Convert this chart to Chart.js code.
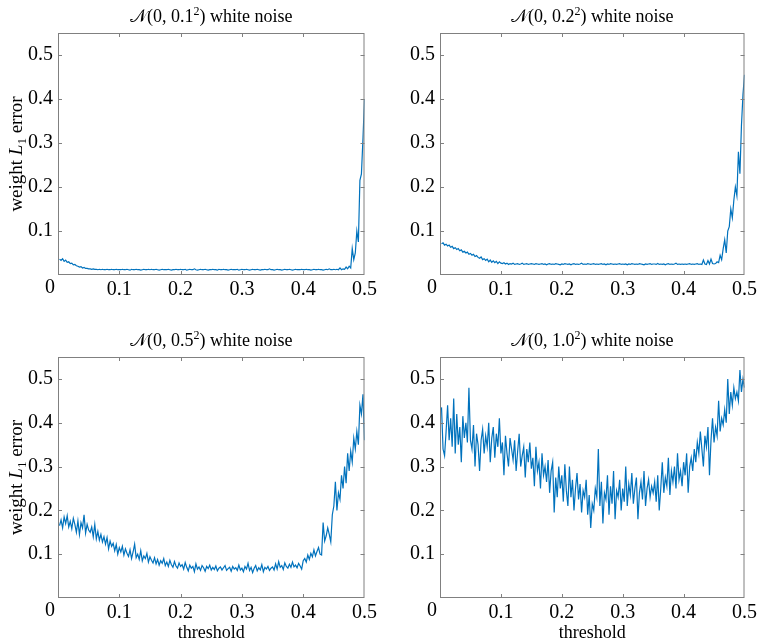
<!DOCTYPE html>
<html>
<head>
<meta charset="utf-8">
<script src="https://cdn.jsdelivr.net/npm/chart.js@4.4.0/dist/chart.umd.min.js"></script>
<style>
  body { margin: 0; background: #fff; width: 760px; height: 644px; position: relative; overflow: hidden; }
  canvas { position: absolute; }
</style>
</head>
<body>
<canvas id="c1" width="380" height="310" style="left:0;top:0"></canvas>
<canvas id="c2" width="380" height="310" style="left:380px;top:0"></canvas>
<canvas id="c3" width="380" height="324" style="left:0;top:320px"></canvas>
<canvas id="c4" width="380" height="324" style="left:380px;top:320px"></canvas>
<script>
// thresholds 0.0025 .. 0.5 (regular grid of the sweep)
const thresholds = [];
for (let i = 1; i <= 200; i++) thresholds.push(+(i * 0.0025).toFixed(4));

const xTicks = [0, 0.1, 0.2, 0.3, 0.4, 0.5];
const yTicks = [0.1, 0.2, 0.3, 0.4, 0.5];
const sigmas = ['0.1', '0.2', '0.5', '1.0'];

// weight L1 error (one value per threshold)
const err01 = [
  0.036,0.033,0.037,0.031,0.034,0.029,0.030,0.026,0.027,0.023,0.024,0.021,0.020,0.018,0.019,0.016,0.017,0.015,0.015,0.014,
  0.014,0.013,0.014,0.013,0.013,0.012,0.013,0.012,0.013,0.012,0.012,0.013,0.012,0.012,0.013,0.012,0.012,0.013,0.012,0.012,
  0.012,0.013,0.012,0.012,0.013,0.012,0.011,0.013,0.012,0.012,0.013,0.012,0.012,0.011,0.012,0.013,0.012,0.012,0.013,0.012,
  0.013,0.012,0.012,0.013,0.012,0.011,0.012,0.013,0.012,0.012,0.012,0.013,0.012,0.011,0.012,0.012,0.013,0.012,0.012,0.013,
  0.012,0.012,0.013,0.011,0.012,0.013,0.012,0.012,0.014,0.012,0.011,0.012,0.013,0.012,0.012,0.013,0.012,0.011,0.012,0.012,
  0.013,0.012,0.012,0.011,0.013,0.012,0.012,0.013,0.012,0.012,0.011,0.012,0.013,0.012,0.012,0.012,0.013,0.011,0.012,0.013,
  0.012,0.012,0.013,0.012,0.011,0.012,0.013,0.012,0.012,0.013,0.012,0.011,0.012,0.012,0.013,0.012,0.012,0.014,0.012,0.012,
  0.011,0.012,0.013,0.012,0.012,0.011,0.012,0.013,0.012,0.012,0.013,0.012,0.011,0.012,0.013,0.012,0.012,0.012,0.013,0.012,
  0.012,0.013,0.012,0.012,0.011,0.012,0.013,0.012,0.012,0.013,0.012,0.012,0.011,0.012,0.013,0.012,0.014,0.012,0.012,0.013,
  0.012,0.013,0.012,0.016,0.012,0.014,0.013,0.018,0.014,0.020,0.016,0.060,0.035,0.050,0.100,0.075,0.215,0.230,0.310,0.400
];
const err02 = [
  0.071,0.073,0.068,0.070,0.066,0.068,0.063,0.065,0.060,0.062,0.058,0.060,0.055,0.057,0.052,0.054,0.050,0.052,0.047,0.049,
  0.045,0.047,0.042,0.044,0.040,0.038,0.041,0.035,0.037,0.033,0.036,0.030,0.034,0.029,0.032,0.028,0.031,0.026,0.030,0.027,
  0.026,0.028,0.025,0.027,0.024,0.026,0.025,0.027,0.024,0.025,0.026,0.024,0.025,0.027,0.024,0.025,0.026,0.024,0.025,0.026,
  0.025,0.024,0.026,0.025,0.024,0.025,0.026,0.024,0.025,0.023,0.025,0.026,0.024,0.025,0.024,0.026,0.025,0.024,0.023,0.025,
  0.024,0.026,0.025,0.024,0.025,0.023,0.025,0.026,0.024,0.025,0.024,0.025,0.027,0.024,0.025,0.024,0.026,0.025,0.024,0.025,
  0.026,0.024,0.025,0.024,0.025,0.026,0.024,0.025,0.023,0.025,0.024,0.026,0.025,0.024,0.025,0.024,0.025,0.026,0.024,0.025,
  0.024,0.025,0.023,0.025,0.024,0.026,0.025,0.024,0.025,0.024,0.026,0.025,0.024,0.023,0.025,0.024,0.025,0.026,0.024,0.025,
  0.025,0.024,0.026,0.024,0.025,0.024,0.025,0.023,0.025,0.026,0.024,0.025,0.024,0.025,0.027,0.024,0.025,0.024,0.025,0.024,
  0.025,0.024,0.025,0.026,0.024,0.025,0.024,0.025,0.026,0.024,0.025,0.024,0.034,0.025,0.024,0.033,0.025,0.036,0.026,0.025,
  0.026,0.030,0.028,0.045,0.035,0.060,0.080,0.050,0.100,0.110,0.150,0.130,0.170,0.200,0.180,0.280,0.230,0.340,0.410,0.455
];
const err05 = [
  0.165,0.178,0.160,0.185,0.170,0.188,0.162,0.175,0.158,0.182,0.168,0.150,0.176,0.145,0.172,0.160,0.190,0.148,0.168,0.155,
  0.150,0.162,0.140,0.168,0.135,0.152,0.132,0.145,0.128,0.140,0.123,0.138,0.112,0.130,0.118,0.125,0.108,0.122,0.100,0.115,
  0.105,0.118,0.098,0.112,0.102,0.095,0.110,0.090,0.105,0.123,0.092,0.100,0.088,0.108,0.085,0.096,0.090,0.102,0.082,0.094,
  0.086,0.080,0.092,0.078,0.088,0.075,0.085,0.079,0.090,0.074,0.082,0.072,0.086,0.076,0.070,0.083,0.073,0.068,0.080,0.072,
  0.076,0.066,0.081,0.070,0.062,0.075,0.068,0.072,0.060,0.078,0.066,0.071,0.063,0.074,0.069,0.061,0.072,0.067,0.075,0.064,
  0.070,0.065,0.073,0.062,0.068,0.071,0.064,0.069,0.074,0.063,0.067,0.070,0.061,0.072,0.066,0.069,0.063,0.075,0.064,0.068,
  0.060,0.072,0.066,0.079,0.063,0.070,0.058,0.068,0.074,0.062,0.069,0.064,0.076,0.060,0.070,0.066,0.072,0.063,0.068,0.071,
  0.064,0.078,0.066,0.083,0.070,0.074,0.065,0.080,0.072,0.068,0.077,0.070,0.082,0.071,0.075,0.069,0.079,0.073,0.066,0.085,
  0.090,0.082,0.098,0.088,0.102,0.094,0.110,0.096,0.106,0.115,0.100,0.098,0.172,0.130,0.142,0.160,0.145,0.128,0.190,0.210,
  0.265,0.200,0.240,0.225,0.280,0.250,0.300,0.262,0.330,0.290,0.335,0.310,0.365,0.340,0.380,0.350,0.440,0.420,0.465,0.360
];
const err10 = [
  0.435,0.340,0.325,0.380,0.440,0.360,0.410,0.345,0.455,0.330,0.420,0.350,0.390,0.310,0.415,0.365,0.400,0.355,0.480,0.360,
  0.340,0.395,0.300,0.375,0.350,0.290,0.360,0.385,0.330,0.370,0.345,0.400,0.310,0.365,0.390,0.320,0.375,0.345,0.410,0.330,
  0.355,0.280,0.370,0.330,0.300,0.365,0.340,0.315,0.360,0.290,0.335,0.375,0.300,0.325,0.345,0.275,0.340,0.310,0.355,0.295,
  0.320,0.255,0.345,0.290,0.310,0.250,0.330,0.280,0.300,0.265,0.315,0.240,0.290,0.310,0.195,0.275,0.230,0.300,0.250,0.280,
  0.220,0.305,0.245,0.210,0.300,0.230,0.270,0.200,0.250,0.285,0.225,0.260,0.195,0.245,0.230,0.270,0.190,0.235,0.160,0.215,
  0.200,0.250,0.230,0.340,0.210,0.265,0.170,0.240,0.225,0.280,0.190,0.255,0.215,0.290,0.180,0.245,0.230,0.270,0.200,0.250,
  0.220,0.300,0.210,0.260,0.235,0.285,0.215,0.250,0.275,0.180,0.240,0.265,0.225,0.290,0.210,0.250,0.270,0.230,0.255,0.240,
  0.265,0.220,0.280,0.200,0.250,0.310,0.240,0.275,0.255,0.320,0.235,0.290,0.265,0.300,0.250,0.330,0.270,0.290,0.255,0.310,
  0.280,0.330,0.240,0.300,0.320,0.290,0.340,0.310,0.355,0.330,0.380,0.340,0.300,0.370,0.345,0.390,0.280,0.360,0.410,0.355,
  0.390,0.370,0.450,0.380,0.410,0.395,0.430,0.400,0.500,0.420,0.470,0.440,0.480,0.455,0.470,0.450,0.520,0.470,0.500,0.480
];

const SERIF = '"Liberation Serif", "Times New Roman", serif';

// draw a row of text pieces (different fonts / raised / lowered) centred on x
function richText(ctx, parts, x, y) {
  let w = 0;
  parts.forEach(p => { ctx.font = p.f; w += ctx.measureText(p.t).width; });
  let cx = x - w / 2;
  parts.forEach(p => {
    ctx.font = p.f;
    ctx.fillText(p.t, cx, y + (p.dy || 0));
    cx += ctx.measureText(p.t).width;
  });
}

// MATLAB-like box with inward ticks, title and axis labels
const boxPlugin = {
  id: 'box',
  afterDraw(chart, args, o) {
    const { ctx, chartArea: a, scales } = chart;
    ctx.save();
    ctx.strokeStyle = '#808080';
    ctx.lineWidth = 1;
    ctx.strokeRect(a.left + 0.5, a.top + 0.5, a.right - a.left - 1, a.bottom - a.top - 1);
    ctx.beginPath();
    yTicks.forEach(v => {
      const y = Math.round(scales.y.getPixelForValue(v)) + 0.5;
      ctx.moveTo(a.left, y); ctx.lineTo(a.left + 4, y);
      ctx.moveTo(a.right - 4, y); ctx.lineTo(a.right, y);
    });
    xTicks.slice(1, -1).forEach(v => {
      const x = Math.round(scales.x.getPixelForValue(v)) + 0.5;
      ctx.moveTo(x, a.bottom); ctx.lineTo(x, a.bottom - 4);
      ctx.moveTo(x, a.top); ctx.lineTo(x, a.top + 4);
    });
    ctx.stroke();

    ctx.fillStyle = '#000';
    ctx.textBaseline = 'alphabetic';
    ctx.textAlign = 'left';
    const cx = (a.left + a.right) / 2;
    richText(ctx, [
      { t: '\u{1D4A9}', f: '18px "DejaVu Serif", "DejaVu Sans", serif' },
      { t: '(0, ' + o.sigma, f: '18px ' + SERIF },
      { t: '2', f: '12px ' + SERIF, dy: -7 },
      { t: ') white noise', f: '18px ' + SERIF }
    ], cx, a.top - 11);

    // the "0" tick label sits a little left of the axis corner
    ctx.textBaseline = 'top';
    richText(ctx, [{ t: '0', f: '20px ' + SERIF }], a.left - 8, a.bottom + 3);
    ctx.textBaseline = 'alphabetic';

    if (o.ylabel) {
      ctx.save();
      ctx.translate(22, (a.top + a.bottom) / 2);
      ctx.rotate(-Math.PI / 2);
      richText(ctx, [
        { t: 'weight ', f: '19px ' + SERIF },
        { t: 'L', f: 'italic 19px ' + SERIF },
        { t: '1', f: '13px ' + SERIF, dy: 4 },
        { t: ' error', f: '19px ' + SERIF }
      ], 0, 0);
      ctx.restore();
    }
    if (o.xlabel) {
      richText(ctx, [{ t: 'threshold', f: '18px ' + SERIF }], cx, chart.height - 6);
    }
    ctx.restore();
  }
};

function makeChart(id, values, sigma, yWidth, xHeight, padTop, padRight, ylabel, xlabel) {
  new Chart(document.getElementById(id), {
    type: 'line',
    data: {
      datasets: [{
        data: values.map((v, i) => ({ x: thresholds[i], y: v })),
        borderColor: '#0072BD',
        borderWidth: 1.2,
        pointRadius: 0,
        tension: 0,
        fill: false
      }]
    },
    options: {
      responsive: false,
      animation: false,
      events: [],
      layout: { padding: { top: padTop, right: padRight, left: 0, bottom: 0 } },
      plugins: {
        legend: { display: false },
        tooltip: { enabled: false },
        box: { sigma: sigma, ylabel: ylabel, xlabel: xlabel }
      },
      scales: {
        x: {
          type: 'linear', min: 0, max: 0.5,
          grid: { display: false, drawTicks: false },
          border: { display: false },
          afterBuildTicks: s => { s.ticks = xTicks.map(v => ({ value: v })); },
          afterFit: s => { s.height = xHeight; },
          ticks: {
            padding: 3, maxRotation: 0, color: '#000',
            font: { family: SERIF, size: 20 },
            callback: v => v === 0 ? '' : v.toFixed(1)
          }
        },
        y: {
          type: 'linear', min: 0, max: 0.55,
          grid: { display: false, drawTicks: false },
          border: { display: false },
          afterBuildTicks: s => { s.ticks = yTicks.map(v => ({ value: v })); },
          afterFit: s => { s.width = yWidth; },
          ticks: {
            padding: 5, color: '#000',
            font: { family: SERIF, size: 20 },
            callback: v => v.toFixed(1)
          }
        }
      }
    },
    plugins: [boxPlugin]
  });
}

makeChart('c1', err01, sigmas[0], 58, 35, 33, 13, true, false);
makeChart('c2', err02, sigmas[1], 60, 35, 33, 11, false, false);
makeChart('c3', err05, sigmas[2], 58, 46, 37, 13, true, true);
makeChart('c4', err10, sigmas[3], 60, 46, 37, 11, false, true);
</script>
</body>
</html>
